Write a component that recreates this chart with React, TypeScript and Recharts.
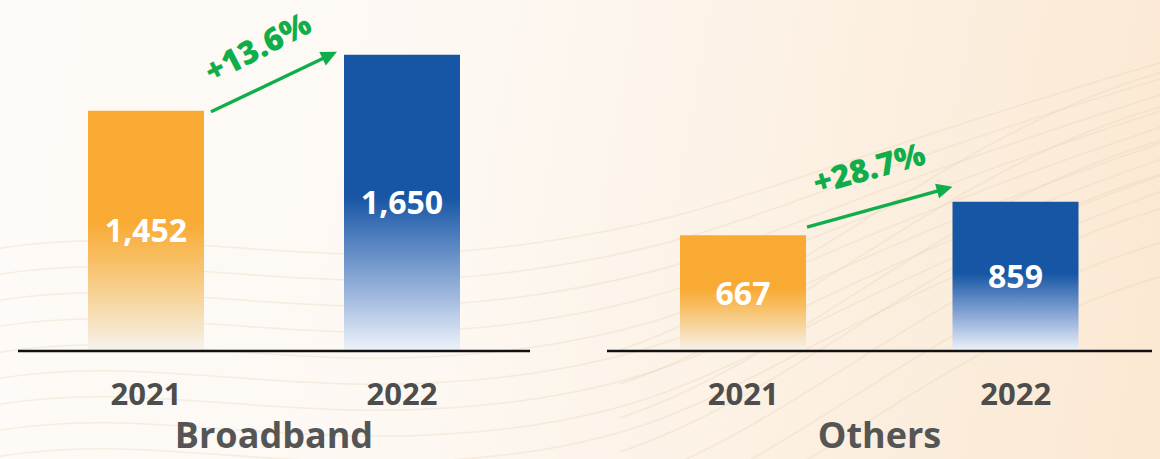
import React from "react";
import { BarChart, Bar, XAxis, YAxis, LabelList, Cell, Label } from "recharts";

// ---- data ----
const categories = ["2021", "2022"];
const broadbandValues = [1452, 1650];
const othersValues = [667, 859];
const growthLabels = ["+13.6%", "+28.7%"];
const panelTitles = ["Broadband", "Others"];

const FONT = "'Open Sans', 'Noto Sans', sans-serif";
const GREEN = "#10ad4b";

type ArrowCfg = { sx: number; sy: number; tx: number; ty: number; dist: number; rot: number };

function fmt(v: number) {
  return v.toLocaleString("en-US");
}

function Gradients({ id }: { id: string }) {
  return (
    <defs>
      <linearGradient id={`${id}-g0`} x1="0" y1="0" x2="0" y2="1">
        <stop offset="0" stopColor="#F9AA33" />
        <stop offset="0.46" stopColor="#F9AA33" />
        <stop offset="0.62" stopColor="#F8BE63" />
        <stop offset="0.82" stopColor="#F6DAAA" />
        <stop offset="1" stopColor="#F6F3EE" />
      </linearGradient>
      <linearGradient id={`${id}-g1`} x1="0" y1="0" x2="0" y2="1">
        <stop offset="0" stopColor="#1756A4" />
        <stop offset="0.48" stopColor="#1756A4" />
        <stop offset="0.63" stopColor="#5582C0" />
        <stop offset="0.82" stopColor="#A2BADF" />
        <stop offset="1" stopColor="#EEF3FA" />
      </linearGradient>
    </defs>
  );
}

function YearTick(props: any) {
  const { x, y, payload } = props;
  return (
    <text
      x={x}
      y={y}
      dy={54}
      textAnchor="middle"
      fill="#4d4d4d"
      fontFamily={FONT}
      fontWeight={700}
      fontSize={31}
    >
      {payload.value}
    </text>
  );
}

function Panel(props: {
  id: string;
  values: number[];
  title: string;
  growth: string;
  domain: [number, number];
  barSize: number;
  width: number;
  margin: { top: number; right: number; left: number; bottom: number };
  arrow: ArrowCfg;
}) {
  const { id, values, title, growth, domain, barSize, width, margin, arrow } = props;
  const data = categories.map((c, i) => ({ year: c, value: values[i] }));
  let first: { x: number; y: number; width: number; height: number } | null = null;

  const renderLabel = (p: any) => {
    const vb = p.viewBox || {};
    const x = Number(p.x ?? vb.x);
    const y = Number(p.y ?? vb.y);
    const w = Number(p.width ?? vb.width);
    const h = Number(p.height ?? vb.height);
    const index = p.index;
    const nodes: React.ReactNode[] = [
      <text
        key="v"
        x={x + w / 2}
        y={y + h / 2}
        dy="0.36em"
        textAnchor="middle"
        fill="#ffffff"
        fontFamily={FONT}
        fontWeight={700}
        fontSize={32}
      >
        {fmt(Number(p.value))}
      </text>,
    ];
    if (index === 0) first = { x, y, width: w, height: h };
    if (index === 1 && first) {
      const sx = first.x + first.width + arrow.sx;
      const sy = first.y + arrow.sy;
      const tx = x + arrow.tx;
      const ty = y + arrow.ty;
      const dx = tx - sx;
      const dy = ty - sy;
      const len = Math.sqrt(dx * dx + dy * dy);
      const ux = dx / len;
      const uy = dy / len;
      const headLen = 16;
      const headHalf = 7.5;
      const bx = tx - ux * headLen;
      const by = ty - uy * headLen;
      const px = -uy;
      const py = ux;
      const ang = (Math.atan2(dy, dx) * 180) / Math.PI + arrow.rot;
      const mx = (sx + tx) / 2 + uy * arrow.dist;
      const my = (sy + ty) / 2 - ux * arrow.dist;
      nodes.push(
        <g key="arrow">
          <line x1={sx} y1={sy} x2={bx + ux * 2} y2={by + uy * 2} stroke={GREEN} strokeWidth={3.4} />
          <polygon
            points={`${tx},${ty} ${bx + px * headHalf},${by + py * headHalf} ${bx - px * headHalf},${by - py * headHalf}`}
            fill={GREEN}
          />
          <text
            x={mx}
            y={my}
            dy="0.35em"
            textAnchor="middle"
            fill={GREEN}
            fontFamily={FONT}
            fontWeight={800}
            fontSize={32}
            transform={`rotate(${ang} ${mx} ${my})`}
          >
            {growth}
          </text>
        </g>
      );
    }
    return <g>{nodes}</g>;
  };

  return (
    <BarChart width={width} height={459} data={data} margin={margin}>
      <Gradients id={id} />
      <YAxis hide type="number" domain={domain} allowDataOverflow />
      <XAxis
        dataKey="year"
        axisLine={{ stroke: "#111111", strokeWidth: 2.6 }}
        tickLine={false}
        tickSize={0}
        tickMargin={0}
        interval={0}
        height={108}
        tick={<YearTick />}
      >
        <Label
          content={(lp: any) => {
            const vb = lp.viewBox || {};
            return (
              <text
                x={vb.x + vb.width / 2}
                y={vb.y + 97}
                textAnchor="middle"
                fill="#555555"
                fontFamily={FONT}
                fontWeight={700}
                fontSize={36}
              >
                {title}
              </text>
            );
          }}
        />
      </XAxis>
      <Bar dataKey="value" barSize={barSize} isAnimationActive={false}>
        {data.map((d, i) => (
          <Cell key={d.year} fill={`url(#${id}-g${i})`} />
        ))}
        <LabelList dataKey="value" content={renderLabel} />
      </Bar>
    </BarChart>
  );
}

function Background() {
  const paths: string[] = [];
  // faint decorative wood-grain waves
  for (let k = 0; k < 9; k++) {
    const y0 = 250 + k * 26;
    paths.push(
      `M -10 ${y0} C 150 ${y0 - 30}, 300 ${y0 + 25}, 520 ${y0 - 5} S 760 ${y0 - 70 - k * 6}, 1170 ${y0 - 190 - k * 10}`
    );
  }
  for (let k = 0; k < 7; k++) {
    const y0 = 90 + k * 34;
    paths.push(`M 620 ${y0 + 260} C 800 ${y0 + 200}, 950 ${y0 + 40}, 1170 ${y0 - 20}`);
  }
  return (
    <svg width={1160} height={459} style={{ position: "absolute", left: 0, top: 0 }}>
      {paths.map((d, i) => (
        <path key={i} d={d} fill="none" stroke="#e9d3b8" strokeOpacity={0.35} strokeWidth={1.6} />
      ))}
    </svg>
  );
}

export default function App() {
  return (
    <div
      style={{
        position: "absolute",
        left: 0,
        top: 0,
        width: 1160,
        height: 459,
        overflow: "hidden",
        background: "linear-gradient(100deg, #fdfbf8 0%, #fdf8f2 40%, #fcf0e2 70%, #fbe8d2 100%)",
      }}
    >
      <Background />
      <div style={{ position: "absolute", left: 0, top: 0 }}>
        <Panel
          id="bb"
          values={broadbandValues}
          title={panelTitles[0]}
          growth={growthLabels[0]}
          domain={[603, 1826]}
          barSize={116}
          width={560}
          margin={{ top: 5, right: 30, left: 18, bottom: 0 }}
          arrow={{ sx: 7, sy: 1, tx: -7, ty: -3, dist: 38, rot: -2 }}
        />
      </div>
      <div style={{ position: "absolute", left: 580, top: 0 }}>
        <Panel
          id="ot"
          values={othersValues}
          title={panelTitles[1]}
          growth={growthLabels[1]}
          domain={[0, 1992]}
          barSize={126}
          width={580}
          margin={{ top: 5, right: 8, left: 27, bottom: 0 }}
          arrow={{ sx: 1, sy: -8, tx: 0, ty: -15, dist: 40, rot: 0 }}
        />
      </div>
    </div>
  );
}
